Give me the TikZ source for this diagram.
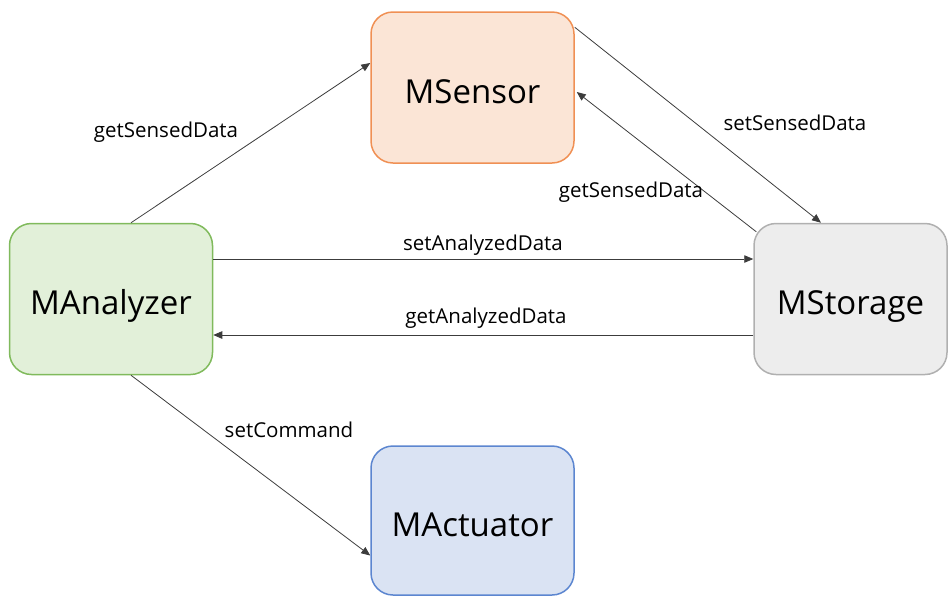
\documentclass[tikz,border=0pt]{standalone}
\usepackage{fontspec}
\setmainfont{Open Sans}
\usetikzlibrary{arrows.meta,calc}

\definecolor{sensorfill}{RGB}{251,229,214}
\definecolor{sensorline}{RGB}{240,144,84}
\definecolor{analyzerfill}{RGB}{226,240,217}
\definecolor{analyzerline}{RGB}{128,186,92}
\definecolor{storagefill}{RGB}{237,237,237}
\definecolor{storageline}{RGB}{176,176,176}
\definecolor{actuatorfill}{RGB}{218,227,243}
\definecolor{actuatorline}{RGB}{92,134,208}
\definecolor{wire}{RGB}{60,60,60}

\tikzset{
  module/.style={draw, line width=1.5pt, rounded corners=22pt,
    minimum width=203pt, minimum height=151pt, inner sep=0pt,
    text height=31pt, text depth=0pt,
    font=\fontsize{33}{38}\selectfont},
  flow/.style={draw=wire, line width=0.8pt,
    -{Triangle[length=9pt,width=7.5pt]}},
  msg/.style={font=\fontsize{20.5}{24}\selectfont, inner sep=0pt}
}

\begin{document}
\begin{tikzpicture}[x=1pt,y=-1pt]
  \useasboundingbox (0,0) rectangle (948,595);

  % modules
  \node[module, draw=sensorline, fill=sensorfill]     (sen) at (472.5,87.5)  {MSensor};
  \node[module, draw=analyzerline, fill=analyzerfill] (ana) at (111,299)     {MAnalyzer};
  \node[module, draw=storageline, fill=storagefill,
        minimum width=193pt]                         (sto) at (850.5,299)   {MStorage};
  \node[module, draw=actuatorline, fill=actuatorfill,
        minimum height=149pt]                        (act) at (472.5,520.5) {MActuator};

  % message flows
  \draw[flow] ([shift={(20,0)}]ana.north) -- ([shift={(0,-24.5)}]sen.west);
  \draw[flow] ([shift={(0,16)}]sen.north east) -- ([shift={(-29.5,0)}]sto.north);
  \draw[flow] ([shift={(3,9)}]sto.north west) -- ([shift={(2,4.5)}]sen.east);
  \draw[flow] ([shift={(0,-40)}]ana.east) -- ([shift={(0,-40)}]sto.west);
  \draw[flow] ([shift={(0,36)}]sto.west) -- ([shift={(0,36)}]ana.east);
  \draw[flow] ([shift={(20,0)}]ana.south) -- ([shift={(0,35)}]act.west);

  % message labels
  \node[msg] (l1) at (166,132) {getSensedData};
  \node[msg] (l2) at (795,123) {setSensedData};
  \node[msg] (l3) at (631,192) {getSensedData};
  \node[msg] (l4) at (483,245) {setAnalyzedData};
  \node[msg] (l5) at (486,318) {getAnalyzedData};
  \node[msg] (l6) at (289,430) {setCommand};
\end{tikzpicture}
\end{document}
